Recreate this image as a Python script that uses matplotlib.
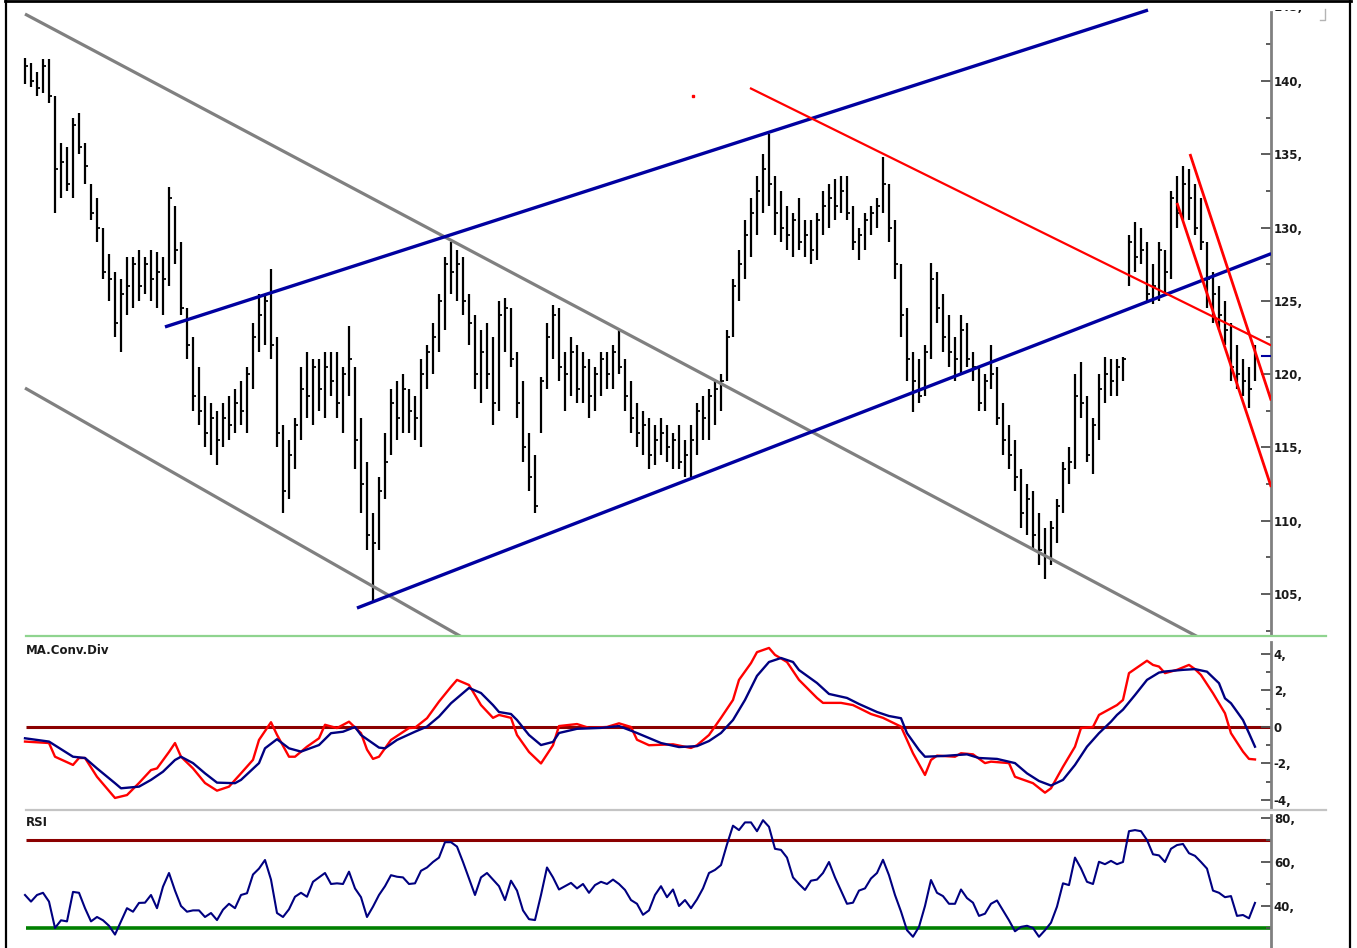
import matplotlib
matplotlib.use("Agg")
import matplotlib.pyplot as plt
from matplotlib.lines import Line2D
from matplotlib.transforms import Bbox
from matplotlib.ticker import FuncFormatter, FixedLocator
import numpy as np

plt.rcParams['font.family'] = ['DejaVu Sans']
plt.rcParams['font.weight'] = 'bold'

# ---------------- price bars (HLC) ----------------
high = [141.6, 141.2, 140.6, 141.5, 141.5, 139.0, 135.8, 135.5, 137.5, 137.8,
        135.8, 133.0, 132.0, 130.0, 128.2, 127.0, 126.5, 128.0, 128.0, 128.5,
        128.0, 128.5, 128.3, 128.0, 132.8, 131.5, 129.0, 124.5, 122.5, 120.5,
        118.5, 118.0, 117.5, 118.0, 118.5, 119.0, 119.5, 120.5, 123.5, 125.5,
        125.5, 127.2, 122.5, 116.5, 115.5, 117.0, 120.5, 121.5, 121.0, 121.0,
        121.5, 121.5, 121.5, 120.5, 123.3, 120.5, 117.0, 114.0, 110.5, 113.0,
        116.0, 119.0, 119.5, 120.0, 119.0, 118.5, 121.0, 122.0, 123.5, 125.5,
        128.0, 129.0, 128.5, 128.0, 125.5, 124.0, 123.0, 123.5, 122.5, 125.0,
        125.2, 124.5, 121.5, 119.5, 116.0, 114.5, 119.8, 123.5, 124.7, 124.5,
        121.5, 122.5, 122.0, 121.5, 121.0, 120.5, 121.5, 121.5, 122.0, 123.0,
        121.0, 119.5, 118.0, 117.5, 117.0, 116.5, 117.0, 116.5, 116.0, 116.5,
        115.5, 116.5, 118.0, 118.5, 119.0, 119.5, 120.0, 123.0, 126.5, 128.5,
        130.5, 132.0, 133.5, 135.0, 136.4, 133.5, 132.5, 131.5, 131.0, 132.0,
        130.5, 130.5, 131.0, 132.5, 133.0, 133.3, 133.5, 133.5, 131.5, 130.0,
        131.0, 131.5, 132.0, 134.8, 133.0, 130.5, 127.5, 124.5, 121.5, 121.0,
        122.0, 127.6, 127.0, 125.5, 124.0, 122.5, 124.0, 123.5, 121.5, 120.5,
        120.0, 122.0, 120.5, 118.0, 116.5, 115.5, 113.5, 112.5, 112.0, 110.5,
        109.5, 110.0, 111.5, 114.0, 115.0, 120.0, 120.8, 118.5, 117.0, 120.0,
        121.2, 121.0, 121.0, 121.2, 129.5, 130.4, 130.0, 129.0, 127.5, 129.0,
        128.5, 132.5, 133.5, 134.2, 134.0, 133.0, 132.0, 129.0, 127.0, 126.0,
        125.0, 123.5, 122.0, 121.0, 120.5, 122.0]
low = [139.8, 139.6, 139.0, 139.2, 138.5, 131.0, 132.0, 132.5, 132.0, 135.0,
       133.0, 130.5, 129.0, 126.5, 125.0, 122.5, 121.5, 124.0, 124.5, 125.0,
       125.5, 125.0, 124.5, 124.0, 126.0, 127.5, 124.0, 121.0, 117.5, 116.5,
       115.0, 114.5, 113.8, 115.0, 115.5, 116.0, 116.5, 116.0, 119.0, 121.5,
       122.0, 121.0, 115.0, 110.5, 111.5, 113.5, 115.5, 117.0, 116.5, 117.5,
       117.0, 118.5, 117.0, 116.0, 118.5, 113.5, 110.5, 108.0, 104.4, 108.0,
       111.5, 114.5, 115.5, 116.0, 116.0, 115.5, 115.0, 119.0, 120.0, 121.5,
       123.0, 125.5, 125.0, 124.0, 122.0, 119.0, 118.0, 119.0, 116.5, 117.5,
       121.5, 120.5, 117.0, 114.0, 112.0, 110.5, 116.0, 119.0, 121.0, 119.5,
       117.5, 118.5, 118.0, 118.0, 117.0, 117.5, 118.5, 119.0, 119.0, 120.0,
       117.5, 116.0, 115.0, 114.5, 113.5, 113.8, 114.5, 114.0, 113.5, 113.5,
       113.0, 113.0, 114.5, 115.5, 115.5, 116.5, 117.5, 119.5, 122.5, 125.0,
       126.5, 128.0, 129.5, 131.0, 131.5, 129.5, 129.0, 128.5, 128.0, 128.5,
       128.0, 127.5, 127.8, 129.5, 130.0, 130.5, 131.0, 130.5, 128.5, 127.8,
       128.5, 129.5, 130.0, 131.0, 129.0, 126.5, 122.5, 119.5, 117.4, 118.0,
       118.5, 121.0, 123.5, 121.5, 120.5, 119.5, 120.0, 120.5, 119.5, 117.5,
       117.5, 119.0, 116.5, 114.5, 113.5, 112.0, 109.5, 109.0, 108.0, 107.0,
       106.0, 107.0, 108.5, 110.5, 112.5, 113.5, 117.0, 114.0, 113.2, 115.5,
       118.0, 118.5, 118.5, 119.5, 126.0, 127.0, 127.5, 125.0, 124.8, 125.0,
       125.5, 126.5, 130.0, 130.5, 130.5, 129.5, 128.5, 124.5, 123.5, 123.0,
       122.0, 119.5, 119.0, 118.5, 117.7, 119.5]
close = [141.0, 140.0, 139.5, 141.0, 139.0, 134.0, 134.5, 133.0, 137.0, 135.5,
         134.2, 131.0, 130.0, 127.0, 126.5, 123.5, 125.5, 126.0, 127.5, 126.0,
         127.5, 126.5, 127.0, 126.5, 132.0, 128.5, 124.5, 122.0, 118.5, 117.5,
         116.0, 117.0, 115.5, 117.0, 116.5, 118.0, 117.5, 120.0, 122.5, 124.0,
         125.0, 122.0, 116.0, 112.0, 114.5, 116.5, 119.0, 118.5, 120.5, 119.0,
         120.5, 119.5, 118.0, 120.0, 121.0, 115.5, 112.5, 109.0, 108.5, 112.0,
         114.0, 118.0, 117.0, 119.0, 117.5, 117.0, 120.0, 121.5, 122.5, 125.0,
         127.5, 127.0, 127.5, 125.0, 123.5, 120.0, 121.5, 120.0, 118.0, 124.0,
         124.5, 121.0, 118.0, 115.0, 113.0, 111.0, 119.5, 122.5, 124.0, 120.5,
         120.0, 121.5, 119.0, 120.5, 118.5, 120.0, 121.0, 120.0, 121.5, 120.5,
         118.5, 117.0, 116.0, 116.5, 114.5, 115.5, 116.0, 115.0, 115.5, 114.0,
         114.5, 115.5, 117.5, 117.0, 118.5, 119.0, 119.5, 122.5, 126.0, 127.5,
         129.5, 131.0, 132.5, 134.0, 133.0, 131.0, 130.0, 129.5, 130.5, 129.0,
         129.5, 128.5, 130.5, 131.5, 132.0, 131.5, 132.5, 131.0, 129.0, 129.5,
         130.5, 131.0, 131.5, 133.0, 130.0, 127.5, 124.0, 121.0, 119.5, 118.5,
         121.5, 126.5, 124.5, 122.5, 121.5, 121.0, 123.0, 121.0, 120.5, 118.0,
         119.5, 120.0, 117.0, 115.5, 114.5, 113.0, 110.5, 111.5, 109.0, 108.0,
         107.5, 109.5, 111.0, 113.5, 114.0, 118.5, 118.0, 114.5, 116.5, 119.0,
         120.0, 119.5, 120.5, 121.0, 129.0, 128.0, 128.5, 125.5, 126.0, 128.5,
         127.0, 132.0, 131.0, 133.0, 132.0, 130.0, 129.0, 126.5, 125.5, 124.0,
         123.0, 120.5, 120.0, 119.5, 119.0, 121.2]

# ---------------- MACD (bar index, value) ----------------
macd_t = [0, 4, 5, 8, 9, 10, 12, 15, 17, 19, 21, 22, 24, 25, 26, 28, 30, 32, 34, 36,
          38, 39, 41, 42, 44, 45, 47, 49, 50, 52, 54, 56, 57, 58, 59, 61, 64, 65, 67, 69,
          71, 72, 74, 76, 78, 79, 81, 82, 84, 86, 88, 89, 92, 94, 97, 99, 101, 102, 104, 108,
          111, 112, 114, 116, 118, 119, 121, 122, 124, 125, 127, 129, 132, 133, 136, 138, 141, 143, 146, 148,
          150, 151, 152, 155, 156, 158, 160, 161, 164, 165, 168, 170, 171, 173, 175, 176, 178, 179, 181, 182,
          183, 184, 187, 188, 189, 190, 192, 194, 195, 196, 198, 200, 201, 203, 204, 205]
macd_v = [-0.80, -0.88, -1.63, -2.08, -1.70, -1.70, -2.73, -3.89, -3.73, -3.07, -2.36, -2.27, -1.37, -0.88, -1.63, -2.27, -3.07, -3.49, -3.27, -2.54,
          -1.80, -0.71, 0.26, -0.43, -1.63, -1.63, -1.08, -0.62, 0.12, -0.06, 0.29, -0.34, -1.24, -1.75, -1.63, -0.71, -0.06, -0.04, 0.48, 1.39,
          2.20, 2.58, 2.30, 1.20, 0.50, 0.66, 0.50, -0.44, -1.37, -2.00, -1.00, 0.05, 0.16, -0.05, 0.00, 0.20, 0.00, -0.70, -1.00, -0.95,
          -1.15, -1.00, -0.44, 0.50, 1.48, 2.58, 3.50, 4.10, 4.33, 3.95, 3.56, 2.58, 1.59, 1.32, 1.32, 1.20, 0.71, 0.50, 0.02, -1.44,
          -2.63, -1.81, -1.57, -1.63, -1.44, -1.50, -1.98, -1.90, -1.98, -2.73, -3.08, -3.60, -3.36, -2.18, -1.08, -0.06, 0.00, 0.66, 1.02, 1.20,
          1.48, 2.95, 3.63, 3.40, 3.31, 2.95, 3.13, 3.40, 3.17, 2.85, 1.85, 0.75, -0.34, -1.35, -1.75, -1.78]
signal_t = [0, 4, 8, 10, 12, 15, 16, 19, 21, 23, 25, 26, 28, 30, 32, 35, 36, 39, 40, 42,
            44, 46, 49, 51, 53, 55, 56, 59, 60, 62, 65, 67, 69, 71, 74, 76, 78, 79, 81, 82,
            84, 86, 88, 89, 92, 96, 99, 102, 106, 109, 112, 114, 116, 118, 120, 122, 124, 126, 128, 129,
            132, 134, 137, 139, 142, 144, 146, 147, 149, 150, 153, 157, 159, 162, 165, 167, 169, 171, 173, 175,
            177, 179, 181, 182, 183, 185, 187, 189, 190, 193, 195, 197, 199, 200, 201, 203, 204, 205]
signal_v = [-0.62, -0.80, -1.63, -1.70, -2.27, -3.08, -3.36, -3.27, -2.90, -2.45, -1.81, -1.63, -1.98, -2.54, -3.05, -3.08, -2.90, -1.98, -1.17, -0.67,
            -1.17, -1.35, -0.99, -0.34, -0.26, 0.00, -0.44, -1.13, -1.17, -0.71, -0.26, 0.02, 0.57, 1.30, 2.14, 1.86, 1.20, 0.82, 0.71, 0.38,
            -0.44, -0.99, -0.82, -0.33, -0.10, -0.05, 0.05, -0.33, -0.88, -1.10, -1.05, -0.77, -0.33, 0.38, 1.48, 2.80, 3.56, 3.78, 3.56, 3.12,
            2.41, 1.81, 1.59, 1.26, 0.82, 0.60, 0.48, -0.34, -1.26, -1.63, -1.59, -1.50, -1.70, -1.75, -1.98, -2.54, -2.96, -3.21, -2.90, -2.08,
            -1.08, -0.34, 0.29, 0.66, 0.95, 1.75, 2.58, 2.98, 3.04, 3.13, 3.17, 3.03, 2.40, 1.57, 1.30, 0.38, -0.34, -1.08]

# ---------------- RSI (one value per bar) ----------------
rsi = [45, 42, 45, 46, 42, 30, 33.5, 33, 46.4, 46,
       39, 33, 35, 33.5, 31, 27, 33, 39, 37.4, 41.4,
       41.5, 45, 39, 48.8, 55, 47, 40, 37.4, 38, 38,
       35, 36.8, 33.6, 38.3, 41, 39, 45, 45.8, 54.3, 57,
       60.9, 52, 36.8, 35, 38.5, 44.2, 46, 44.2, 51, 53,
       55, 50, 50.3, 50, 55.6, 48, 44, 35, 39.7, 45,
       49, 54, 53.3, 53, 50, 50.3, 56, 57.5, 60, 62,
       69, 69, 67, 60, 52.5, 45, 53, 55, 52, 49,
       42.7, 51.5, 47, 38, 34, 33.6, 45, 57.5, 53, 47.5,
       49, 50.5, 48, 50, 46, 49.5, 51, 50, 52, 50,
       47.3, 42.7, 41, 36, 38, 45, 49, 44, 47.5, 40,
       42.7, 39, 43, 48, 55, 56.4, 58.6, 68, 76.5, 74.5,
       78, 78, 74, 79, 76, 66, 65.5, 62, 53, 50,
       47.3, 51.5, 52, 55, 60, 53, 47, 41, 41.5, 47,
       48, 52.5, 55, 61, 54, 45, 37.5, 29, 26, 30.5,
       40, 51.8, 46, 44.5, 41, 41, 47.5, 43.6, 41.5, 35.5,
       36.5, 41, 42.5, 38, 33.5, 28.5, 30.5, 31, 30, 26,
       29, 32.4, 39.7, 50.3, 49.5, 62, 57.1, 51, 50, 60.1,
       59, 60.5, 59, 60, 74, 74.5, 74, 70, 63.5, 63,
       60, 66, 67.7, 68.2, 64, 62.8, 60, 57, 47, 46,
       44, 44.5, 35.5, 35.9, 34.4, 41.4]

# ---------------- trendlines (bar index, price) ----------------
grey_upper = ([0, 200], [144.57, 101.09])
grey_lower = ([0, 75], [119.05, 101.55])
blue_upper = ([23.33, 187.17], [123.22, 144.84])
blue_lower = ([55.33, 207.7], [104.04, 128.22])
red_long = ([120.83, 207.7], [139.52, 121.96])
red_steep_a = ([194.17, 207.7], [135.02, 118.2])
red_steep_b = ([192.0, 207.7], [131.68, 112.3])
last_price = 121.24

W, H = 1357, 948
def fx(px): return px / W
def fy(py): return 1 - py / H

fig = plt.figure(figsize=(W / 100, H / 100), dpi=100, facecolor='white')
L, R = 7, 1271
ax_p = fig.add_axes([fx(L), fy(635), (R - L) / W, (635 - 2) / H])
ax_m = fig.add_axes([fx(L), fy(808), (R - L) / W, (808 - 637) / H])
ax_r = fig.add_axes([fx(L), fy(948), (R - L) / W, (948 - 810) / H])

xl = (-3.0, 207.67)
for ax in (ax_p, ax_m, ax_r):
    ax.set_xlim(*xl)
    ax.set_xticks([])
    for s in ('top', 'left', 'bottom'):
        ax.spines[s].set_visible(False)
    ax.spines['right'].set_color('#808080')
    ax.spines['right'].set_linewidth(2)
    ax.yaxis.tick_right()
    ax.tick_params(axis='y', which='major', direction='in', length=7, width=1.3,
                   color='#505050', labelcolor='#1a1a1a', labelsize=8.5, pad=2)
    ax.tick_params(axis='y', which='minor', direction='in', length=3.5, width=1.3,
                   color='#505050')
    ax.patch.set_alpha(0)

fmt = FuncFormatter(lambda v, _: "0" if abs(v) < 1e-9 else f"{v:g},")

# price panel
idx = np.arange(len(close))
ax_p.set_ylim(102.2, 145.39)
ax_p.spines['right'].set_bounds(102.2, 144.7)
ax_p.vlines(idx, low, high, color='black', lw=1.6, zorder=2)
ax_p.hlines(close, idx, idx + 0.45, color='black', lw=1.3, zorder=2)
ax_p.plot(*grey_upper, color='#808080', lw=2.3, zorder=3, solid_capstyle='butt')
ax_p.plot(*grey_lower, color='#808080', lw=2.3, zorder=3, solid_capstyle='butt')
ax_p.plot(*blue_upper, color='#0000a0', lw=2.4, zorder=3, solid_capstyle='butt')
ax_p.plot(*blue_lower, color='#0000a0', lw=2.4, zorder=3, solid_capstyle='butt')
ax_p.plot(*red_long, color='#ff0000', lw=1.6, zorder=3, solid_capstyle='butt')
ax_p.plot(*red_steep_a, color='#ff0000', lw=2.0, zorder=3, solid_capstyle='butt')
ax_p.plot(*red_steep_b, color='#ff0000', lw=2.0, zorder=3, solid_capstyle='butt')
ax_p.plot([206.2, 207.67], [last_price, last_price], color='#0000a0', lw=1.5, zorder=3)
ax_p.plot([111.3], [139.0], marker='s', ms=1.8, color='red', zorder=3)
ax_p.yaxis.set_major_locator(FixedLocator([105, 110, 115, 120, 125, 130, 135, 140]))
ax_p.yaxis.set_minor_locator(FixedLocator([102.5, 107.5, 112.5, 117.5, 122.5, 127.5, 132.5, 137.5, 142.5]))
ax_p.yaxis.set_major_formatter(fmt)
t145 = fig.text(fx(1274), fy(7.7), "145,", ha='left', va='center', fontsize=8.5,
                weight='bold', color='#1a1a1a')
t145.set_clip_box(Bbox.from_extents(1272, 0, 1350, H - 10))
t145.set_clip_on(True)

# MACD panel
ax_m.set_ylim(-4.44, 4.93)
ax_m.spines['right'].set_bounds(-4.44, 4.65)
ax_m.hlines(0, 0.2, xl[1], color='#8b0000', lw=2.2, zorder=1)
ax_m.plot(macd_t, macd_v, color='#ff0000', lw=1.7, zorder=3)
ax_m.plot(signal_t, signal_v, color='#000080', lw=1.7, zorder=4)
ax_m.yaxis.set_major_locator(FixedLocator([-4, -2, 0, 2, 4]))
ax_m.yaxis.set_minor_locator(FixedLocator([-3, -1, 1, 3]))
ax_m.yaxis.set_major_formatter(fmt)

# RSI panel
ax_r.set_ylim(20.9, 83.64)
ax_r.spines['right'].set_bounds(20.9, 81.5)
ax_r.hlines(70, 0.2, xl[1], color='#8b0000', lw=2.2, zorder=1)
ax_r.hlines(30, 0.2, xl[1], color='#008000', lw=2.6, zorder=1)
ax_r.plot(idx, rsi, color='#000080', lw=1.5, zorder=3)
ax_r.yaxis.set_major_locator(FixedLocator([40, 60, 80]))
ax_r.yaxis.set_minor_locator(FixedLocator([30, 50, 70]))
ax_r.yaxis.set_major_formatter(fmt)

# labels
fig.text(fx(26), fy(650), "MA.Conv.Div", ha='left', va='center', fontsize=8.5,
         weight='bold', color='#1a1a1a')
fig.text(fx(26), fy(823), "RSI", ha='left', va='center', fontsize=8.5,
         weight='bold', color='#1a1a1a')

# separators and frame
fig.add_artist(Line2D([fx(26), fx(1326)], [fy(636), fy(636)], color='#8fd48f', lw=1.6))
fig.add_artist(Line2D([fx(26), fx(1326)], [fy(809.5), fy(809.5)], color='#c4c4c4', lw=1.6))
fig.add_artist(Line2D([fx(5.5), fx(5.5)], [0, 1], color='black', lw=1.6))
fig.add_artist(Line2D([fx(5), fx(1351)], [fy(1), fy(1)], color='black', lw=2))
fig.add_artist(Line2D([fx(1350), fx(1350)], [0, 1], color='black', lw=1.6))
fig.add_artist(Line2D([fx(1320), fx(1325), fx(1325)], [fy(20), fy(20), fy(9)],
                      color='#b4b4b4', lw=1))

fig.savefig("out.png", dpi=100, facecolor='white')
